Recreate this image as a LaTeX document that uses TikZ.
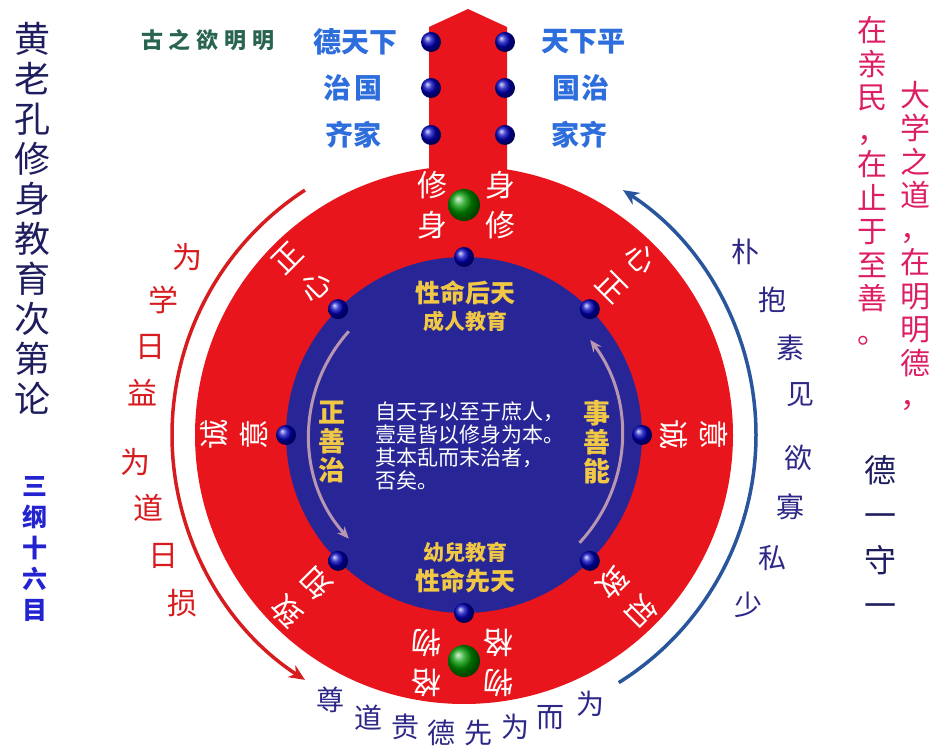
\documentclass[tikz,border=0pt]{standalone}
\usepackage{fontspec}
\newfontfamily\cjk{Noto Sans CJK SC}
\usetikzlibrary{arrows.meta,calc}
\definecolor{ringred}{RGB}{232,22,28}
\definecolor{innerblue}{RGB}{40,38,150}
\definecolor{gold}{RGB}{240,200,70}
\definecolor{titlenavy}{RGB}{30,30,95}
\definecolor{sanblue}{RGB}{35,35,210}
\definecolor{topblue}{RGB}{45,110,220}
\definecolor{darkgreen}{RGB}{40,100,80}
\definecolor{pinktext}{RGB}{220,30,100}
\definecolor{arcred}{RGB}{215,28,32}
\definecolor{arcblue}{RGB}{40,85,155}
\definecolor{navytext}{RGB}{45,40,135}
\definecolor{paleline}{RGB}{185,150,175}
\newcommand\zfs[2]{\fontsize{#1}{#2}\selectfont}
\tikzset{
  txt/.style={inner sep=0pt, align=center},
  ringtxt/.style={txt, text=white, font=\cjk\zfs{30}{40}},
  blueball/.style={ball color=blue!75!black},
  greenball/.style={ball color=green!60!black},
}
\begin{document}
\begin{tikzpicture}[x=1pt,y=1pt]
\useasboundingbox (0,0) rectangle (935,747);
\coordinate (C) at (464,312);
% stem arrow
\fill[ringred] (429,560) -- (429,720) -- (468,738) -- (507,720) -- (507,560) -- cycle;
% discs
\fill[ringred] (C) circle (269);
\fill[innerblue] (C) circle (178);
% outer arcs
\draw[arcred, line width=3.5, -{Stealth[length=16,width=14]}] ($(C)+(123:292)$) arc[start angle=123, end angle=237, radius=292];
\draw[arcblue, line width=3.5, -{Stealth[length=16,width=14]}] ($(C)+(-58:292)$) arc[start angle=-58, end angle=57, radius=292];
% inner arcs
\draw[paleline, line width=3, -{Stealth[length=12,width=10]}] ($(C)+(138:155)$) arc[start angle=138, end angle=222, radius=155];
\draw[paleline, line width=3, -{Stealth[length=12,width=10]}] ($(C)+(-43:158)$) arc[start angle=-43, end angle=37, radius=158];
% balls on stem
\foreach \y in {705,659,612}{
  \shade[blueball] (431,\y) circle (10);
  \shade[blueball] (505,\y) circle (10);
}
% balls on inner circle
\foreach \a in {0,45,...,315}{
  \shade[blueball] ($(C)+(\a:178)$) circle (10);
}
% green balls
\shade[greenball] ($(C)+(90:230)$) circle (16);
\shade[greenball] ($(C)+(270:226)$) circle (16);
% ring texts
\node[ringtxt] (r1) at ($(C)+(90:230)+(-32,0)$) {修\\身};
\node[ringtxt] (r2) at ($(C)+(90:230)+(36,0)$) {身\\修};
\node[ringtxt, rotate=45] (r3) at ($(C)+(135:230)$) {正\\心};
\node[ringtxt, rotate=90] (r4) at ($(C)+(180:230)$) {诚\\意};
\node[ringtxt, rotate=135] (r5) at ($(C)+(225:230)$) {致\\知};
\node[ringtxt, rotate=180] (r6) at ($(C)+(270:228)+(-38,0)$) {格\\物};
\node[ringtxt, rotate=180] (r7) at ($(C)+(270:228)+(34,0)$) {物\\格};
\node[ringtxt, rotate=-45] (r8) at ($(C)+(45:230)$) {心\\正};
\node[ringtxt, rotate=-90] (r9) at ($(C)+(0:230)$) {意\\诚};
\node[ringtxt, rotate=-135] (r10) at ($(C)+(315:230)$) {知\\致};
% inner gold texts
\node[txt, text=gold, font=\cjk\bfseries\zfs{25}{25}] (t1) at (465,454) {性命后天};
\node[txt, text=gold, font=\cjk\bfseries\zfs{21}{21}] (t2) at (465,425) {成人教育};
\node[txt, text=gold, font=\cjk\bfseries\zfs{21}{21}] (t3) at (465,195) {幼兒教育};
\node[txt, text=gold, font=\cjk\bfseries\zfs{25}{25}] (t4) at (465,166) {性命先天};
\node[txt, text=gold, font=\cjk\bfseries\zfs{27}{29}] (t5) at (332,305) {正\\善\\治};
\node[txt, text=gold, font=\cjk\bfseries\zfs{27}{29}] (t6) at (597,305) {事\\善\\能};
\node[inner sep=0pt, align=left, text=white, font=\cjk\zfs{21}{23}] (t7) at (470,301) {自天子以至于庶人，\\壹是皆以修身为本。\\其本乱而末治者，\\否矣。};
% stem labels
\tikzset{stemlab/.style={txt, text=topblue, font=\cjk\bfseries\zfs{28}{28}}}
\node[stemlab] (s1) at (355,705) {德天下};
\node[stemlab] (s2) at (353,659) {治\hspace{4pt}国};
\node[stemlab] (s3) at (353,612) {齐家};
\node[stemlab] (s4) at (583,705) {天下平};
\node[stemlab] (s5) at (581,659) {国\hspace{2pt}治};
\node[stemlab] (s6) at (579,612) {家齐};
\node[txt, text=darkgreen, font=\cjk\bfseries\zfs{22}{22}] (g1) at (208,707) {古\hspace{6pt}之\hspace{6pt}欲\hspace{6pt}明\hspace{6pt}明};
% left title
\node[txt, text=titlenavy, font=\cjk\zfs{36}{40}] (title) at (33,529) {黄\\老\\孔\\修\\身\\教\\育\\次\\第\\论};
\node[txt, text=sanblue, font=\cjk\bfseries\zfs{25}{31}] (sub) at (35,198) {三\\纲\\十\\六\\目};
% right texts
\node[txt, text=pinktext, font=\cjk\zfs{30}{33.5}] (p1) at (872,566) {在\\亲\\民\\，\\在\\止\\于\\至\\善\\。};
\node[txt, text=pinktext, font=\cjk\zfs{30}{33.5}] (p2) at (915,501) {大\\学\\之\\道\\，\\在\\明\\明\\德\\，};
\node[txt, text=titlenavy, font=\cjk\zfs{32}{45}] (d1) at (880,210) {德\\一\\守\\一};
% left arc text
\foreach \c/\x/\y [count=\i] in {为/187/490, 学/163/447, 日/150/400, 益/142/354, 为/135/285, 道/148/239, 日/163/191, 损/182/144}{
  \node[txt, text=arcred, font=\cjk\zfs{30}{30}] (L\i) at (\x,\y) {\c};
}
% right arc text
\foreach \c/\x/\y [count=\i] in {朴/745/495, 抱/772/447, 素/790/399, 见/800/352, 欲/798/289, 寡/790/240, 私/772/189, 少/748/142}{
  \node[txt, text=navytext, font=\cjk\zfs{28}{28}] (R\i) at (\x,\y) {\c};
}
% bottom text
\foreach \c/\x/\y [count=\i] in {尊/330/47, 道/368/29, 贵/405/20, 德/441/14, 先/478/14, 为/515/20, 而/550/29, 为/590/43}{
  \node[txt, text=navytext, font=\cjk\zfs{28}{28}] (B\i) at (\x,\y) {\c};
}
\end{tikzpicture}
\end{document}
